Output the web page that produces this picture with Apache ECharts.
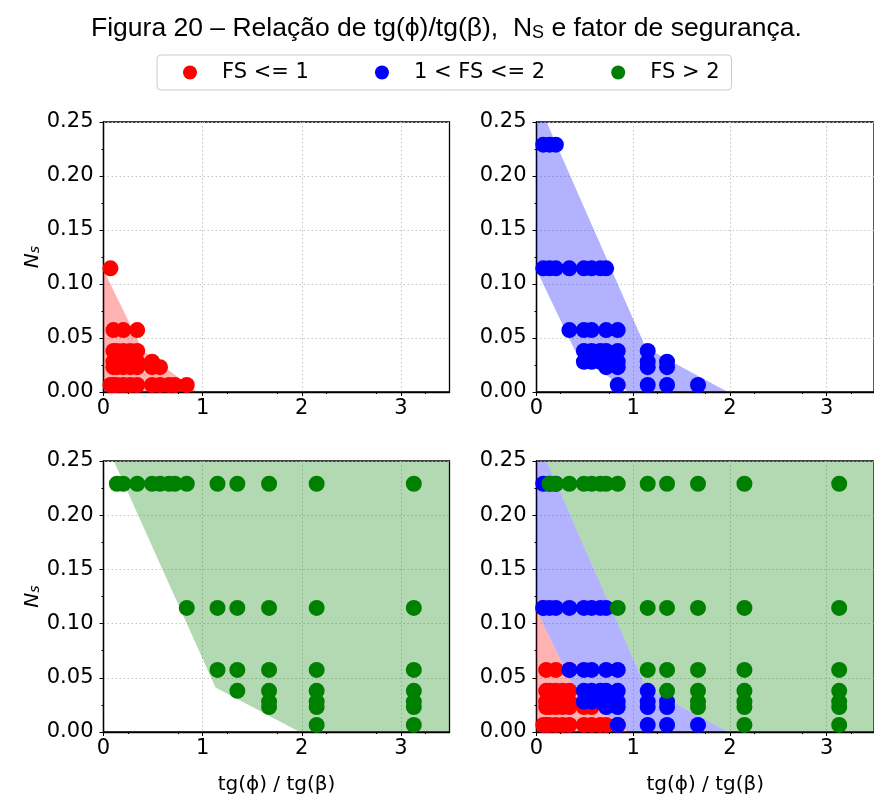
<!DOCTYPE html>
<html>
<head>
<meta charset="utf-8">
<script src="https://cdn.jsdelivr.net/npm/echarts@6/dist/echarts.min.js"></script>
<style>
  html, body { margin: 0; padding: 0; background: #fff; }
  #chart { width: 874px; height: 796px; }
</style>
</head>
<body>
<div id="chart"></div>
<script>
// Ns levels (rows of points) shared by all classes
const nsLevels = [0.229, 0.1145, 0.0573, 0.038, 0.028, 0.023, 0.0065];

// tg(phi)/tg(beta) values per Ns row, one list for each FS class
const redX = [
  [],
  [0.07],
  [0.1, 0.2, 0.34],
  [0.1, 0.135, 0.2, 0.27, 0.34],
  [0.1, 0.135, 0.2, 0.27, 0.34, 0.49],
  [0.1, 0.135, 0.2, 0.27, 0.34, 0.49, 0.57],
  [0.07, 0.1, 0.135, 0.2, 0.27, 0.34, 0.49, 0.57, 0.66, 0.72, 0.84]
];
const blueX = [
  [0.07, 0.135, 0.2],
  [0.07, 0.135, 0.2, 0.34, 0.49, 0.57, 0.66, 0.72],
  [0.34, 0.49, 0.57, 0.72, 0.84],
  [0.49, 0.57, 0.66, 0.72, 0.84, 1.15],
  [0.49, 0.57, 0.66, 0.72, 0.84, 1.15, 1.35],
  [0.72, 0.84, 1.15, 1.35],
  [0.84, 1.15, 1.35, 1.67]
];
const greenX = [
  [0.135, 0.2, 0.34, 0.49, 0.57, 0.66, 0.72, 0.84, 1.15, 1.35, 1.67, 2.15, 3.13],
  [0.84, 1.15, 1.35, 1.67, 2.15, 3.13],
  [1.15, 1.35, 1.67, 2.15, 3.13],
  [1.35, 1.67, 2.15, 3.13],
  [1.67, 2.15, 3.13],
  [1.67, 2.15, 3.13],
  [2.15, 3.13]
];

// shaded regions (x, Ns vertices)
const redFill = [[0, 0.113], [0.4, 0.038], [0.95, 0], [0, 0]];
const blueFill = [[0, 0.25], [0.104, 0.25], [1.13, 0.041], [1.98, 0], [0.95, 0], [0.4, 0.038], [0, 0.113]];
const greenFill = [[0.104, 0.25], [1.13, 0.041], [1.98, 0], [3.49, 0], [3.49, 0.25]];

const classNames = ['FS <= 1', '1 < FS <= 2', 'FS > 2'];
const xTicks = [0, 1, 2, 3];
const xMinorTicks = [0.25, 0.75, 1.25, 1.75, 2.25, 2.75, 3.25];

const classColors = ['#ff0000', '#0000ff', '#008000'];
const fillColors = ['rgba(255,0,0,0.3)', 'rgba(0,0,255,0.3)', 'rgba(0,128,0,0.3)'];
const classX = [redX, blueX, greenX];
const classFill = [redFill, blueFill, greenFill];

function toPoints(rows) {
  const pts = [];
  rows.forEach((xs, i) => xs.forEach(x => pts.push([x, nsLevels[i]])));
  return pts;
}

const grids = [
  { left: 103.5, top: 122, width: 346, height: 270 },
  { left: 536.5, top: 122, width: 346, height: 270 },
  { left: 103.5, top: 461, width: 346, height: 271 },
  { left: 536.5, top: 461, width: 346, height: 271 }
];
const panelClasses = [[0], [1], [2], [0, 1, 2]];

const FONT = 'DejaVu Sans';
const dotted = { color: '#c4c4c4', width: 1, type: [1.5, 2.5] };

const xAxes = [], yAxes = [], series = [];
grids.forEach((g, i) => {
  const bottomRow = i >= 2;
  xAxes.push({
    gridIndex: i, type: 'value', min: 0, max: 3.49, interval: 1,
    axisLine: { lineStyle: { color: '#000', width: 1.3 } },
    axisTick: { length: 4, lineStyle: { color: '#000', width: 1 }, customValues: xTicks },
    axisLabel: { customValues: xTicks, color: '#000', fontFamily: FONT, fontSize: 21, margin: 6 },
    splitLine: { show: true, lineStyle: dotted },
    name: bottomRow ? 'tg(ϕ) / tg(β)' : '',
    nameLocation: 'middle', nameGap: 43,
    nameTextStyle: { color: '#000', fontFamily: FONT, fontSize: 20 }
  });
  // minor ticks
  xAxes.push({
    gridIndex: i, type: 'value', min: 0, max: 3.49, position: 'bottom',
    axisLine: { show: false },
    axisTick: { length: 2, lineStyle: { color: '#000', width: 1 }, customValues: xMinorTicks },
    axisLabel: { show: false },
    splitLine: { show: false }
  });
  const leftCol = i % 2 === 0;
  yAxes.push({
    gridIndex: i, type: 'value', min: 0, max: 0.25, interval: 0.05,
    axisLine: { show: true, lineStyle: { color: '#000', width: 1.3 } },
    axisTick: { show: true, length: 4, lineStyle: { color: '#000', width: 1 } },
    minorTick: { show: true, splitNumber: 2, length: 2, lineStyle: { color: '#000', width: 1 } },
    axisLabel: { color: '#000', fontFamily: FONT, fontSize: 21, margin: 10, formatter: v => v.toFixed(2) },
    splitLine: { show: true, lineStyle: dotted },
    name: leftCol ? '{n|N}{s|s}' : '',
    nameLocation: 'middle', nameRotate: 90, nameGap: 52,
    nameTextStyle: {
      rich: {
        n: { fontFamily: FONT, fontStyle: 'italic', fontSize: 20, color: '#000' },
        s: { fontFamily: FONT, fontStyle: 'italic', fontSize: 14, color: '#000', verticalAlign: 'bottom' }
      }
    }
  });
  const cls = panelClasses[i];
  cls.forEach(c => {
    series.push({
      name: classNames[c], type: 'scatter', xAxisIndex: 2 * i, yAxisIndex: i,
      data: toPoints(classX[c]), symbolSize: 16, silent: true,
      itemStyle: { color: classColors[c], opacity: 1 }
    });
  });
  cls.forEach(c => {
    const poly = classFill[c];
    series.push({
      name: 'fill' + c, type: 'custom', xAxisIndex: 2 * i, yAxisIndex: i,
      data: [[0, 0]], silent: true, clip: true,
      renderItem: (params, api) => ({
        type: 'polygon',
        shape: { points: poly.map(p => api.coord(p)) },
        style: { fill: fillColors[c] }
      })
    });
  });
});

const chart = echarts.init(document.getElementById('chart'), null, { renderer: 'canvas' });
chart.setOption({
  animation: false,
  backgroundColor: '#fff',
  title: {
    text: '{a|Figura 20 – Relação de tg(ϕ)/tg(β),  N}{b|S}{a| e fator de segurança.}',
    left: 86, top: 10,
    textStyle: {
      rich: {
        a: { fontFamily: 'Liberation Sans', fontSize: 26.5, fontWeight: 'normal', color: '#000' },
        b: { fontFamily: 'Liberation Sans', fontSize: 18, fontWeight: 'normal', color: '#000', verticalAlign: 'bottom' }
      }
    }
  },
  legend: {
    data: classNames, left: 157, top: 55, icon: 'circle',
    itemWidth: 14, itemHeight: 14, itemGap: 66,
    textStyle: { fontFamily: FONT, fontSize: 21, color: '#000', padding: [0, 0, 0, 20] },
    borderColor: '#cccccc', borderWidth: 1, borderRadius: 4,
    padding: [7, 12, 7, 26]
  },
  grid: grids.map(g => Object.assign({ show: true, borderColor: '#000', borderWidth: 1.3, backgroundColor: 'transparent' }, g)),
  xAxis: xAxes,
  yAxis: yAxes,
  series: series
});
</script>
</body>
</html>
